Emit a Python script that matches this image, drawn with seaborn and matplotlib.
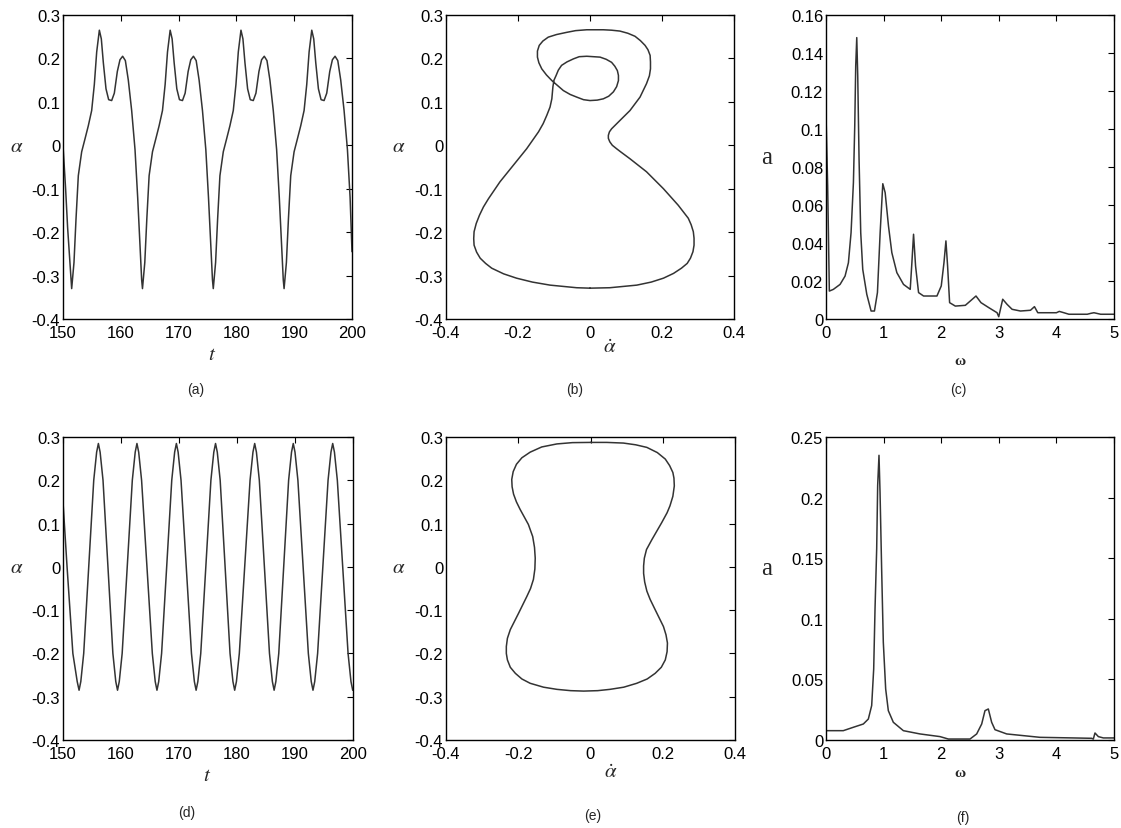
import matplotlib
matplotlib.use("Agg")
import matplotlib.pyplot as plt
import seaborn as sns

# ---------------- data ----------------
# (a) time history alpha(t), quasi-periodic response
a_t = [150.00, 150.45, 150.80, 151.15,
       151.50, 151.90, 152.25, 152.65, 153.23, 153.81, 154.38, 154.96, 155.42, 155.83, 156.29, 156.63, 156.98, 157.44,
       157.90, 158.42, 158.88, 159.40, 159.86, 160.32, 160.79, 161.30, 161.88, 162.46, 162.92, 163.32, 163.61,
       163.75, 164.15, 164.50, 164.90, 165.48, 166.06, 166.63, 167.21, 167.67, 168.08, 168.54, 168.88, 169.23, 169.69,
       170.15, 170.67, 171.13, 171.65, 172.11, 172.57, 173.04, 173.55, 174.13, 174.71, 175.17, 175.57, 175.86,
       176.00, 176.40, 176.75, 177.15, 177.73, 178.31, 178.88, 179.46, 179.92, 180.33, 180.79, 181.13, 181.48, 181.94,
       182.40, 182.92, 183.38, 183.90, 184.36, 184.82, 185.29, 185.80, 186.38, 186.96, 187.42, 187.82, 188.11,
       188.25, 188.65, 189.00, 189.40, 189.98, 190.56, 191.13, 191.71, 192.17, 192.58, 193.04, 193.38, 193.73, 194.19,
       194.65, 195.17, 195.63, 196.15, 196.61, 197.07, 197.54, 198.05, 198.63, 199.21, 199.67, 200.00]
a_alpha = [0.0, -0.10, -0.19, -0.26,
           -0.33, -0.27, -0.17, -0.07, -0.015, 0.015, 0.045, 0.08, 0.14, 0.215, 0.265, 0.245, 0.19, 0.13,
           0.105, 0.103, 0.12, 0.17, 0.197, 0.205, 0.195, 0.15, 0.08, -0.01, -0.12, -0.23, -0.31,
           -0.33, -0.27, -0.17, -0.07, -0.015, 0.015, 0.045, 0.08, 0.14, 0.215, 0.265, 0.245, 0.19, 0.13,
           0.105, 0.103, 0.12, 0.17, 0.197, 0.205, 0.195, 0.15, 0.08, -0.01, -0.12, -0.23, -0.31,
           -0.33, -0.27, -0.17, -0.07, -0.015, 0.015, 0.045, 0.08, 0.14, 0.215, 0.265, 0.245, 0.19, 0.13,
           0.105, 0.103, 0.12, 0.17, 0.197, 0.205, 0.195, 0.15, 0.08, -0.01, -0.12, -0.23, -0.31,
           -0.33, -0.27, -0.17, -0.07, -0.015, 0.015, 0.045, 0.08, 0.14, 0.215, 0.265, 0.245, 0.19, 0.13,
           0.105, 0.103, 0.12, 0.17, 0.197, 0.205, 0.195, 0.15, 0.08, -0.01, -0.12, -0.245]

# (b) phase portrait: alpha_dot (x) vs alpha (y)
b_adot = [0.0, 0.055, 0.13, 0.17, 0.204, 0.232, 0.254, 0.27, 0.279, 0.286, 0.289, 0.289, 0.287, 0.281, 0.273,
          0.245, 0.204, 0.157, 0.111, 0.085, 0.074, 0.062, 0.055, 0.051, 0.051, 0.054, 0.060, 0.083, 0.111, 0.139,
          0.157, 0.165, 0.168, 0.168, 0.167, 0.161, 0.153, 0.14, 0.125, 0.105, 0.083, 0.06, 0.037, -0.009, -0.04,
          -0.065, -0.093, -0.116, -0.131, -0.141, -0.146, -0.146, -0.142, -0.134, -0.121, -0.106, -0.074, -0.055,
          -0.037, -0.018, 0.0, 0.02, 0.037, 0.052, 0.065, 0.074, 0.079, 0.079, 0.076, 0.069, 0.060, 0.045, 0.028,
          -0.009, -0.03, -0.046, -0.064, -0.079, -0.088, -0.094, -0.1, -0.103, -0.106, -0.111, -0.120, -0.13,
          -0.143, -0.176, -0.213, -0.250, -0.282, -0.296, -0.307, -0.316, -0.322, -0.323, -0.322, -0.315, -0.305,
          -0.29, -0.273, -0.24, -0.204, -0.16, -0.111, -0.037, 0.0]
b_alpha = [-0.329, -0.328, -0.322, -0.315, -0.306, -0.295, -0.283, -0.272, -0.26, -0.245, -0.23, -0.214, -0.199,
           -0.183, -0.168, -0.138, -0.1, -0.061, -0.031, -0.015, -0.008, 0.0, 0.008, 0.016, 0.023, 0.031, 0.038,
           0.057, 0.080, 0.111, 0.142, 0.16, 0.176, 0.192, 0.207, 0.22, 0.230, 0.241, 0.251, 0.258, 0.263, 0.265,
           0.266, 0.266, 0.264, 0.260, 0.255, 0.249, 0.24, 0.230, 0.217, 0.203, 0.19, 0.176, 0.162, 0.149, 0.126,
           0.117, 0.111, 0.105, 0.103, 0.104, 0.107, 0.113, 0.123, 0.135, 0.149, 0.161, 0.172, 0.182, 0.191, 0.198,
           0.203, 0.205, 0.204, 0.199, 0.192, 0.184, 0.173, 0.161, 0.15, 0.135, 0.107, 0.088, 0.069, 0.05, 0.031,
           -0.008, -0.046, -0.084, -0.123, -0.142, -0.161, -0.18, -0.199, -0.215, -0.230, -0.246, -0.260, -0.272,
           -0.283, -0.296, -0.306, -0.315, -0.322, -0.328, -0.329]

# (c) amplitude spectrum
c_omega = [0.0, 0.029, 0.058, 0.128, 0.244, 0.331, 0.389, 0.435, 0.476, 0.499, 0.516, 0.534, 0.551, 0.574, 0.603,
           0.638, 0.708, 0.783, 0.841, 0.893, 0.940, 0.986, 1.027, 1.085, 1.143, 1.230, 1.346, 1.462, 1.491, 1.520,
           1.555, 1.607, 1.694, 1.926, 2.001, 2.048, 2.082, 2.111, 2.146, 2.245, 2.419, 2.506, 2.604, 2.691, 2.825,
           2.970, 2.999, 3.068, 3.144, 3.231, 3.376, 3.550, 3.619, 3.677, 3.898, 4.000, 4.050, 4.130, 4.217, 4.536,
           4.600, 4.652, 4.768, 5.0]
c_amp = [0.1077, 0.070, 0.0147, 0.0156, 0.0182, 0.0226, 0.0296, 0.0454, 0.0718, 0.1016, 0.1332, 0.1481, 0.1279,
         0.0840, 0.0454, 0.0261, 0.0130, 0.0042, 0.0042, 0.0139, 0.0454, 0.0712, 0.0665, 0.0489, 0.0349, 0.0244,
         0.0182, 0.0156, 0.0296, 0.0446, 0.0279, 0.0139, 0.0121, 0.0121, 0.0174, 0.0296, 0.0411, 0.0279, 0.0086,
         0.0068, 0.0072, 0.0095, 0.0121, 0.0086, 0.0060, 0.0033, 0.0012, 0.0104, 0.0077, 0.0051, 0.0042, 0.0046,
         0.0065, 0.0033, 0.0033, 0.0033, 0.0040, 0.0033, 0.0025, 0.0025, 0.0030, 0.0033, 0.0025, 0.0025]

# (d) time history alpha(t), periodic response
d_t = [150.0, 150.7, 151.7, 152.45, 152.77,
       153.07, 153.57, 155.3, 155.8, 156.1,
       156.4, 156.9, 158.6, 159.1, 159.4,
       159.7, 160.2, 161.95, 162.45, 162.75,
       163.05, 163.55, 165.4, 165.9, 166.2,
       166.5, 167.0, 168.75, 169.25, 169.55,
       169.85, 170.35, 172.15, 172.65, 172.95,
       173.25, 173.75, 175.5, 176.0, 176.3,
       176.6, 177.1, 178.8, 179.3, 179.6,
       179.9, 180.4, 182.25, 182.75, 183.05,
       183.35, 183.85, 185.6, 186.1, 186.4,
       186.7, 187.2, 188.9, 189.4, 189.7,
       190.0, 190.5, 192.3, 192.8, 193.1,
       193.4, 193.9, 195.7, 196.2, 196.5,
       196.8, 197.3, 199.15, 199.65, 199.95, 200.0]
d_alpha = [0.15, 0.0, -0.2, -0.265, -0.285,
           -0.265, -0.2, 0.2, 0.265, 0.285,
           0.265, 0.2, -0.2, -0.265, -0.285,
           -0.265, -0.2, 0.2, 0.265, 0.285,
           0.265, 0.2, -0.2, -0.265, -0.285,
           -0.265, -0.2, 0.2, 0.265, 0.285,
           0.265, 0.2, -0.2, -0.265, -0.285,
           -0.265, -0.2, 0.2, 0.265, 0.285,
           0.265, 0.2, -0.2, -0.265, -0.285,
           -0.265, -0.2, 0.2, 0.265, 0.285,
           0.265, 0.2, -0.2, -0.265, -0.285,
           -0.265, -0.2, 0.2, 0.265, 0.285,
           0.265, 0.2, -0.2, -0.265, -0.285,
           -0.265, -0.2, 0.2, 0.265, 0.285,
           0.265, 0.2, -0.2, -0.265, -0.285, -0.283]

# (e) phase portrait, periodic
e_adot = [0.0, -0.05, -0.093, -0.135, -0.167, -0.19, -0.205, -0.214, -0.218, -0.217, -0.213, -0.205, -0.195, -0.172,
          -0.16, -0.155, -0.153, -0.154, -0.158, -0.166, -0.176, -0.199, -0.222, -0.23, -0.233, -0.233, -0.23,
          -0.222, -0.208, -0.19, -0.167, -0.13, -0.093, -0.055, -0.019, 0.02, 0.054, 0.092, 0.128, 0.157, 0.179,
          0.196, 0.207, 0.212, 0.213, 0.209, 0.202, 0.179, 0.165, 0.156, 0.15, 0.147, 0.147, 0.149, 0.155, 0.17,
          0.197, 0.212, 0.22, 0.228, 0.232, 0.231, 0.228, 0.219, 0.207, 0.185, 0.156, 0.125, 0.091, 0.045, 0.0]
e_alpha = [0.2875, 0.287, 0.284, 0.277, 0.265, 0.252, 0.237, 0.22, 0.202, 0.185, 0.168, 0.15, 0.133, 0.098, 0.07,
           0.045, 0.02, -0.005, -0.029, -0.05, -0.068, -0.107, -0.145, -0.165, -0.184, -0.2, -0.215, -0.232,
           -0.246, -0.259, -0.269, -0.278, -0.283, -0.286, -0.287, -0.286, -0.283, -0.278, -0.269, -0.259, -0.246,
           -0.232, -0.215, -0.196, -0.176, -0.157, -0.138, -0.099, -0.075, -0.056, -0.035, -0.015, 0.002, 0.02,
           0.04, 0.063, 0.102, 0.125, 0.141, 0.163, 0.187, 0.205, 0.218, 0.234, 0.249, 0.264, 0.276, 0.282, 0.286,
           0.2875, 0.2875]

# (f) amplitude spectrum, periodic
f_omega = [0.0, 0.30, 0.475, 0.648, 0.735, 0.793, 0.828, 0.851, 0.880, 0.897, 0.920, 0.938, 0.966, 0.995, 1.036,
           1.082, 1.169, 1.343, 1.632, 1.979, 2.124, 2.500, 2.616, 2.703, 2.760, 2.818, 2.876, 2.934, 3.137, 3.426,
           3.715, 4.294, 4.612, 4.641, 4.670, 4.728, 4.815, 5.0]
f_amp = [0.0077, 0.0077, 0.0105, 0.0132, 0.0173, 0.0284, 0.0586, 0.108, 0.158, 0.210, 0.2349, 0.2046, 0.141,
         0.0807, 0.0421, 0.0242, 0.0146, 0.0077, 0.0050, 0.0028, 0.0008, 0.0008, 0.0050, 0.0132, 0.0242, 0.0256,
         0.0146, 0.0085, 0.0050, 0.0036, 0.0022, 0.0017, 0.0014, 0.0008, 0.0058, 0.0028, 0.0017, 0.0017]

# tick values
t_ticks = [150, 160, 170, 180, 190, 200]
alpha_ticks = [-0.4, -0.3, -0.2, -0.1, 0, 0.1, 0.2, 0.3]
adot_ticks = [-0.4, -0.2, 0, 0.2, 0.4]
omega_ticks = [0, 1, 2, 3, 4, 5]
c_ticks = [0, 0.02, 0.04, 0.06, 0.08, 0.1, 0.12, 0.14, 0.16]
f_ticks = [0, 0.05, 0.1, 0.15, 0.2, 0.25]
captions = ["(a)", "(b)", "(c)", "(d)", "(e)", "(f)"]

# ---------------- style ----------------
sns.set_style("white")
plt.rcParams["font.family"] = ["Liberation Sans", "DejaVu Sans"]
plt.rcParams["mathtext.fontset"] = "stix"
plt.rcParams["axes.unicode_minus"] = False

W, H = 1121, 829
fig = plt.figure(figsize=(W / 100, H / 100), dpi=100)
fig.patch.set_facecolor("white")

LINE = "#333333"
LW = 1.1
TICKFS = 12


def rect(l, r, t, b):
    return [l / W, 1 - b / H, (r - l) / W, (b - t) / H]


def fmt(v):
    s = "%g" % v
    return "0" if s in ("-0", "0") else s


def style(ax, xt, yt, xlim, ylim):
    ax.set_xlim(*xlim)
    ax.set_ylim(*ylim)
    ax.set_xticks(xt)
    ax.set_xticklabels([fmt(v) for v in xt])
    ax.set_yticks(yt)
    ax.set_yticklabels([fmt(v) for v in yt])
    ax.tick_params(direction="in", top=True, right=True, length=4, width=0.8,
                   labelsize=TICKFS, colors="black")
    ax.tick_params(axis="x", pad=4)
    ax.tick_params(axis="y", pad=2)
    for s in ax.spines.values():
        s.set_visible(True)
        s.set_color("black")
        s.set_linewidth(1.0)
    ax.set_facecolor("white")


axes_rects = [
    rect(63, 352, 16, 320), rect(446, 734, 16, 320), rect(826, 1114, 16, 320),
    rect(63, 353, 438, 741), rect(446, 735, 438, 741), rect(826, 1114, 438, 741),
]
axs = [fig.add_axes(r) for r in axes_rects]

panels = [
    (a_t, a_alpha, t_ticks, alpha_ticks, (150, 200), (-0.4, 0.3)),
    (b_adot, b_alpha, adot_ticks, alpha_ticks, (-0.4, 0.4), (-0.4, 0.3)),
    (c_omega, c_amp, omega_ticks, c_ticks, (0, 5), (0, 0.16)),
    (d_t, d_alpha, t_ticks, alpha_ticks, (150, 200), (-0.4, 0.3)),
    (e_adot, e_alpha, adot_ticks, alpha_ticks, (-0.4, 0.4), (-0.4, 0.3)),
    (f_omega, f_amp, omega_ticks, f_ticks, (0, 5), (0, 0.25)),
]
for ax, (xs, ys, xt, yt, xl, yl) in zip(axs, panels):
    sns.lineplot(x=xs, y=ys, ax=ax, color=LINE, linewidth=LW, sort=False, estimator=None)
    style(ax, xt, yt, xl, yl)
    ax.set_xlabel("")
    ax.set_ylabel("")


def lab(ax, x, y, s, **kw):
    ax.text(x, y, s, transform=ax.transAxes, ha="center", va="center", **kw)


# y labels
lab(axs[0], -0.159, 0.572, r"$\alpha$", fontsize=15)
lab(axs[1], -0.163, 0.572, r"$\alpha$", fontsize=15)
lab(axs[2], -0.205, 0.533, "a", fontsize=18, family="Liberation Serif")
lab(axs[3], -0.159, 0.574, r"$\alpha$", fontsize=15)
lab(axs[4], -0.163, 0.574, r"$\alpha$", fontsize=15)
lab(axs[5], -0.205, 0.568, "a", fontsize=18, family="Liberation Serif")
# x labels
lab(axs[0], 0.516, -0.112, r"$t$", fontsize=15)
lab(axs[1], 0.569, -0.092, r"$\dot{\alpha}$", fontsize=15)
lab(axs[2], 0.465, -0.138, "ω", fontsize=11, family="Liberation Serif", fontweight="bold")
lab(axs[3], 0.497, -0.114, r"$t$", fontsize=15)
lab(axs[4], 0.569, -0.104, r"$\dot{\alpha}$", fontsize=15)
lab(axs[5], 0.465, -0.106, "ω", fontsize=11, family="Liberation Serif", fontweight="bold")

# captions
cap_pos = [(196, 390), (575, 390), (958, 390), (187, 813), (593, 816), (963, 818)]
for (x, y), c in zip(cap_pos, captions):
    fig.text(x / W, 1 - y / H, c, ha="center", va="center", fontsize=10)

fig.savefig("out.png", dpi=100, facecolor="white")
